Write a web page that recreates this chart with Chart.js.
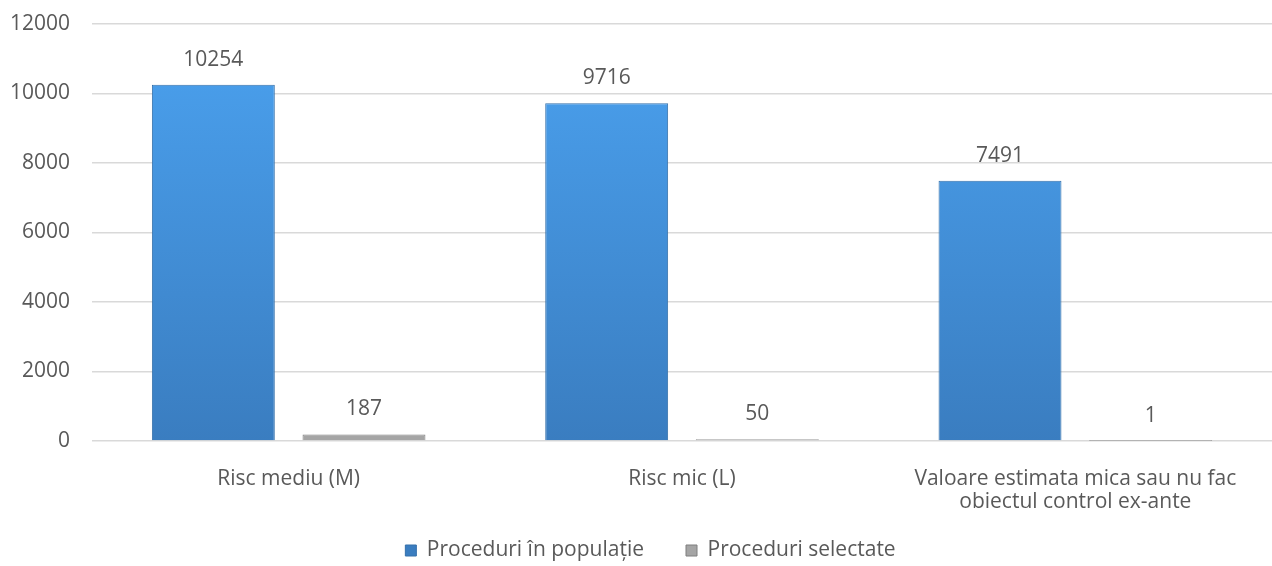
<!DOCTYPE html>
<html>
<head>
<meta charset="utf-8">
<script src="https://cdn.jsdelivr.net/npm/chart.js@4"></script>
<style>
  html, body { margin: 0; padding: 0; background: #fff; overflow: hidden; }
  #wrap { width: 1272px; height: 566px; }
</style>
</head>
<body>
<div id="wrap"><canvas id="chart-proceduri"></canvas></div>
<script>
// categorii si valori
const categorii = [
  'Risc mediu (M)',
  'Risc mic (L)',
  ['Valoare estimata mica sau nu fac', 'obiectul control ex-ante']
];
const populatie = [10254, 9716, 7491];
const selectate = [187, 50, 1];
const yTicks = [0, 2000, 4000, 6000, 8000, 10000, 12000];

const textColor = '#595959';
const fontFam = '"Open Sans", Lato, sans-serif';
const fontSize = 21;
const legendPad = 42;

// gradient albastru pentru bare
function blueFill(context) {
  const chart = context.chart;
  const area = chart.chartArea;
  if (!area) return '#4a90d9';
  const g = chart.ctx.createLinearGradient(0, area.top, 0, area.bottom);
  g.addColorStop(0, '#4ba2f0');
  g.addColorStop(1, '#3a7dc0');
  return g;
}

// etichete deasupra barelor
const valueLabels = {
  id: 'valueLabels',
  afterDatasetsDraw(chart) {
    const c = chart.ctx;
    c.save();
    c.font = fontSize + 'px ' + fontFam;
    c.fillStyle = textColor;
    c.textAlign = 'center';
    c.textBaseline = 'middle';
    chart.data.datasets.forEach((ds, i) => {
      chart.getDatasetMeta(i).data.forEach((bar, j) => {
        c.fillText(ds.data[j], bar.x, bar.y - 25);
      });
    });
    c.restore();
  }
};

// legenda: spatiu mare intre itemi, dar inaltime mica
const legendSpacing = {
  id: 'legendSpacing',
  beforeInit(chart) {
    const fit = chart.legend.fit;
    chart.legend.fit = function () {
      fit.call(this);
      this.height = 55;
    };
  },
  afterLayout(chart) {
    chart.legend.top = 552 - legendPad - 12;
  }
};

const ctx = document.getElementById('chart-proceduri');
const myChart = new Chart(ctx, {
  type: 'bar',
  data: {
    labels: categorii,
    datasets: [{
      label: 'Proceduri în populație',
      data: populatie,
      backgroundColor: blueFill,
      borderColor: '#3470aa',
      borderWidth: 1
    }, {
      label: 'Proceduri selectate',
      data: selectate,
      backgroundColor: '#a5a5a5',
      borderColor: '#7f7f7f',
      borderWidth: 1
    }]
  },
  options: {
    responsive: true,
    maintainAspectRatio: false,
    animation: false,
    categoryPercentage: 0.766,
    barPercentage: 0.816,
    layout: { padding: { top: 24, right: -17, left: 12, bottom: 0 } },
    plugins: {
      tooltip: { enabled: false },
      legend: {
        position: 'bottom',
        labels: {
          color: textColor,
          font: { family: fontFam, size: fontSize },
          boxWidth: 11,
          boxHeight: 11,
          padding: legendPad
        }
      }
    },
    scales: {
      x: {
        grid: { display: false },
        border: { display: false },
        afterFit(scale) {
          scale.paddingLeft = 0;
          scale.paddingRight = 0;
          scale.height = 70;
        },
        ticks: {
          color: textColor,
          font: { family: fontFam, size: fontSize, lineHeight: 1.1 },
          padding: 18,
          maxRotation: 0
        }
      },
      y: {
        min: 0,
        max: 12000,
        afterBuildTicks(scale) {
          scale.ticks = yTicks.map(v => ({ value: v }));
        },
        afterFit(scale) {
          scale.paddingTop = 0;
          scale.paddingBottom = 0;
          scale.width = 80;
        },
        grid: { color: '#d9d9d9', lineWidth: 1.5, drawTicks: false },
        border: { display: false },
        ticks: {
          color: textColor,
          font: { family: fontFam, size: fontSize },
          padding: 22,
          callback: v => String(v)
        }
      }
    }
  },
  plugins: [valueLabels, legendSpacing]
});
</script>
</body>
</html>
